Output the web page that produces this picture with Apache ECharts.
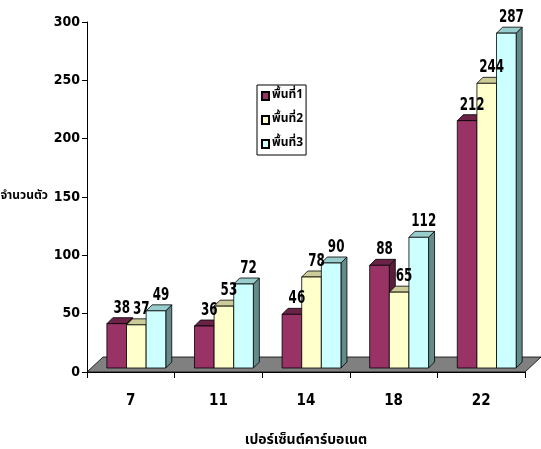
<!DOCTYPE html>
<html>
<head>
<meta charset="utf-8">
<script src="https://cdn.jsdelivr.net/npm/echarts@6/dist/echarts.min.js"></script>
<style>
  html, body { margin: 0; padding: 0; background: #fff; }
  #chart { width: 541px; height: 449px; }
</style>
</head>
<body>
<div id="chart"></div>
<script>
// Carbonate percentage classes on the x axis
const categories = ['7', '11', '14', '18', '22'];
// Counts for each area
const area1 = [38, 36, 46, 88, 212];
const area2 = [37, 53, 78, 65, 244];
const area3 = [49, 72, 90, 112, 287];
const seriesNames = ['พื้นที่1', 'พื้นที่2', 'พื้นที่3'];
const yTicks = { min: 0, max: 300, interval: 50 };

const FONT = '"Liberation Sans Narrow", "DejaVu Sans Condensed", "Noto Sans Thai", sans-serif';
const THAI_FONT = '"Noto Sans Thai", "Noto Sans", sans-serif';

// front / top / side shading for each bar colour
const palette = [
  { front: '#993366', top: '#6a2347', side: '#5a1d3c' },
  { front: '#ffffcc', top: '#cccc99', side: '#a8a87c' },
  { front: '#ccffff', top: '#99cccc', side: '#648a8a' }
];

const DEPTH = 6;   // bar depth offset (px)
const LIFT = 4;    // bars stand slightly back on the floor

function barGeometry(api, idx) {
  const cat = api.value(0);
  const top = api.coord([cat, api.value(1)]);
  const base = api.coord([cat, 0]);
  const band = api.size([1, 0])[0];
  const w = band * 0.224;
  const x0 = top[0] - band * 0.273 + idx * w;
  return { x0: x0, w: w, yt: top[1] - LIFT, yb: base[1] - LIFT };
}

function barRenderer(idx) {
  const col = palette[idx];
  return function (params, api) {
    const g = barGeometry(api, idx);
    const d = DEPTH;
    const stroke = { stroke: '#000', lineWidth: 0.8 };
    return {
      type: 'group',
      children: [
        {
          type: 'polygon',
          shape: { points: [[g.x0 + g.w, g.yt], [g.x0 + g.w + d, g.yt - d], [g.x0 + g.w + d, g.yb - d], [g.x0 + g.w, g.yb]] },
          style: Object.assign({ fill: col.side }, stroke)
        },
        {
          type: 'polygon',
          shape: { points: [[g.x0, g.yt], [g.x0 + g.w, g.yt], [g.x0 + g.w + d, g.yt - d], [g.x0 + d, g.yt - d]] },
          style: Object.assign({ fill: col.top }, stroke)
        },
        {
          type: 'rect',
          shape: { x: g.x0, y: g.yt, width: g.w, height: g.yb - g.yt },
          style: Object.assign({ fill: col.front }, stroke)
        }
      ]
    };
  };
}

// value labels, squeezed horizontally like the narrow face used on the axes
function labelRenderer(idx) {
  return function (params, api) {
    const g = barGeometry(api, idx);
    return {
      type: 'text',
      x: g.x0 + g.w / 2 + 5,
      y: g.yt - DEPTH - 1,
      scaleX: 0.78,
      style: {
        x: 0,
        y: 0,
        text: String(api.value(1)),
        align: 'center',
        verticalAlign: 'bottom',
        font: 'bold 17px ' + FONT,
        fill: '#000'
      }
    };
  };
}

function floorRenderer(params) {
  const cs = params.coordSys;
  const yb = cs.y + cs.height;
  const dx = 16, dy = 15;
  return {
    type: 'polygon',
    shape: { points: [[cs.x, yb], [cs.x + cs.width, yb], [cs.x + cs.width + dx, yb - dy], [cs.x + dx, yb - dy]] },
    style: { fill: '#808080', stroke: '#000', lineWidth: 0.8 }
  };
}

const dataSets = [area1, area2, area3];
const toData = arr => arr.map((v, i) => [i, v]);

const series = [
  {
    type: 'custom',
    name: 'floor',
    renderItem: floorRenderer,
    data: [[0, 0]],
    z: 1,
    silent: true
  }
];
dataSets.forEach((arr, i) => {
  series.push({
    type: 'custom',
    name: seriesNames[i],
    renderItem: barRenderer(i),
    data: toData(arr),
    encode: { x: 0, y: 1 },
    itemStyle: { color: palette[i].front, borderColor: '#000', borderWidth: 1 },
    z: 2 + i
  });
});
dataSets.forEach((arr, i) => {
  series.push({
    type: 'custom',
    name: 'label' + (i + 1),
    renderItem: labelRenderer(i),
    data: toData(arr),
    encode: { x: 0, y: 1 },
    z: 10,
    silent: true
  });
});

const chart = echarts.init(document.getElementById('chart'), null, { renderer: 'canvas' });
chart.setOption({
  animation: false,
  backgroundColor: '#fff',
  grid: { left: 87, top: 22, right: 16, bottom: 77, outerBoundsMode: 'none', containLabel: false },
  legend: {
    data: seriesNames,
    orient: 'vertical',
    left: 257,
    top: 85,
    icon: 'rect',
    itemWidth: 7,
    itemHeight: 8,
    itemGap: 12,
    padding: [5, 3, 5, 4],
    borderColor: '#000',
    borderWidth: 1,
    textStyle: { fontFamily: THAI_FONT, fontWeight: 'bold', fontSize: 12, color: '#000', padding: [0, 0, 0, -2] }
  },
  xAxis: {
    type: 'category',
    data: categories,
    name: 'เปอร์เซ็นต์คาร์บอเนต',
    nameLocation: 'middle',
    nameGap: 62,
    nameTextStyle: { fontFamily: THAI_FONT, fontWeight: 'bold', fontSize: 14, color: '#000' },
    axisLine: { lineStyle: { color: '#000', width: 1 } },
    axisTick: { show: true, length: 6, lineStyle: { color: '#000' } },
    axisLabel: { fontFamily: FONT, fontWeight: 'bold', fontSize: 15, color: '#000', margin: 22 },
    splitLine: { show: false }
  },
  yAxis: {
    type: 'value',
    min: yTicks.min,
    max: yTicks.max,
    interval: yTicks.interval,
    name: 'จำนวนตัว',
    nameLocation: 'middle',
    nameRotate: 0,
    nameGap: 39,
    nameMoveOverlap: false,
    nameTextStyle: { fontFamily: THAI_FONT, fontWeight: 'bold', fontSize: 12, color: '#000' },
    axisLine: { show: true, lineStyle: { color: '#000', width: 1 } },
    axisTick: { show: true, length: 5, lineStyle: { color: '#000' } },
    axisLabel: { fontFamily: FONT, fontWeight: 'bold', fontSize: 14, color: '#000', margin: 7 },
    splitLine: { show: false }
  },
  series: series
});
</script>
</body>
</html>
